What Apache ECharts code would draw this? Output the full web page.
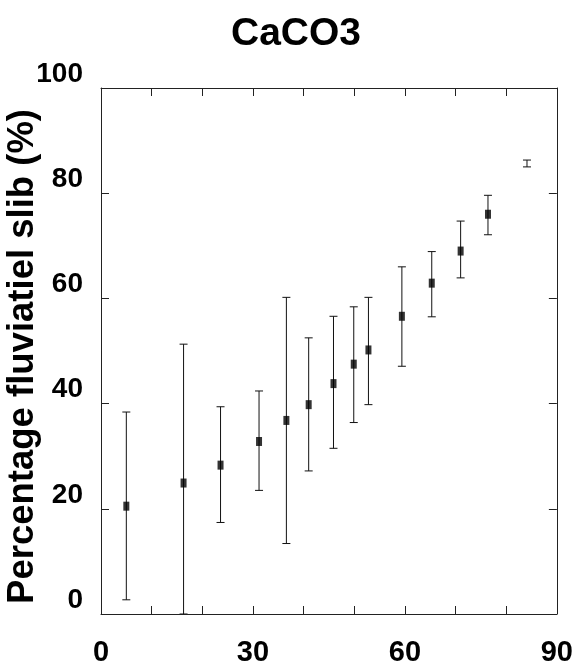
<!DOCTYPE html>
<html>
<head>
<meta charset="utf-8">
<script src="https://cdn.jsdelivr.net/npm/echarts@6/dist/echarts.min.js"></script>
<style>
html,body{margin:0;padding:0;background:#fff;}
#chart{width:576px;height:668px;}
</style>
</head>
<body>
<div id="chart"></div>
<script>
var xValues = [5.0, 16.3, 23.6, 31.2, 36.6, 41.0, 45.9, 49.9, 52.8, 59.4, 65.3, 71.0, 76.4, 84.1];
var yMeans  = [20.5, 24.9, 28.3, 32.8, 36.8, 39.8, 43.8, 47.5, 50.2, 56.6, 62.9, 69.0, 76.0, 85.6];
var yHigh   = [38.4, 51.3, 39.4, 42.4, 60.2, 52.5, 56.6, 58.4, 60.2, 66.0, 68.9, 74.7, 79.6, 86.3];
var yLow    = [2.7, 0.0, 17.4, 23.5, 13.4, 27.2, 31.5, 36.4, 39.8, 47.1, 56.5, 63.9, 72.1, 85.0];
var xTickLabels = [0, 30, 60, 90];
var yTickLabels = [0, 20, 40, 60, 80, 100];
var titleText = 'CaCO3';
var yAxisTitle = 'Percentage fluviatiel slib (%)';

var FONT = '"Liberation Sans", Arial, Helvetica, sans-serif';
var chart = echarts.init(document.getElementById('chart'), null, {renderer: 'canvas'});

var errData = xValues.map(function (x, i) { return [x, yLow[i], yHigh[i]]; });
var pointData = xValues.map(function (x, i) {
  var d = {value: [x, yMeans[i]]};
  if (yHigh[i] - yLow[i] < 3) { d.symbolSize = 0; }
  return d;
});

function axisBase() {
  return {
    axisLine: {show: true, onZero: false, lineStyle: {color: '#222', width: 1}},
    axisTick: {show: true, inside: true, length: 8, lineStyle: {color: '#222', width: 1}},
    splitLine: {show: false}
  };
}

var xBottom = axisBase();
Object.assign(xBottom, {
  type: 'value', min: 0, max: 90, interval: 10, position: 'bottom',
  axisLabel: {
    margin: 24, fontFamily: FONT, fontSize: 29, fontWeight: 'bold', color: '#000',
    formatter: function (v) { return xTickLabels.indexOf(v) >= 0 ? String(v) : ''; }
  }
});
var xTop = axisBase();
Object.assign(xTop, {
  type: 'value', min: 0, max: 90, interval: 10, position: 'top',
  axisLabel: {show: false}
});
var yLeft = axisBase();
Object.assign(yLeft, {
  type: 'value', min: 0, max: 100, interval: 20, position: 'left',
  axisLabel: {
    margin: 18, fontFamily: FONT, fontSize: 28, fontWeight: 'bold', color: '#000',
    verticalAlign: 'bottom', lineHeight: 28,
    formatter: function (v) { return yTickLabels.indexOf(v) >= 0 ? String(v) : ''; }
  }
});
var yRight = axisBase();
Object.assign(yRight, {
  type: 'value', min: 0, max: 100, interval: 20, position: 'right',
  axisLabel: {show: false}
});

var option = {
  animation: false,
  backgroundColor: '#fff',
  title: {
    text: titleText,
    left: 291, top: 10, textAlign: 'center',
    textStyle: {fontFamily: FONT, fontSize: 39, fontWeight: 'bold', color: '#000'}
  },
  grid: {left: 101, right: 17, top: 88, bottom: 54},
  xAxis: [xBottom, xTop],
  yAxis: [yLeft, yRight],
  graphic: [{
    type: 'text', left: 4, top: 109,
    rotation: Math.PI / 2, originX: 0, originY: 0,
    style: {
      text: yAxisTitle, fontFamily: FONT, fontSize: 36.5, fontWeight: 'bold', fill: '#000'
    }
  }],
  series: [{
    type: 'custom',
    xAxisIndex: 0, yAxisIndex: 0,
    data: errData,
    clip: true,
    renderItem: function (params, api) {
      var x = api.value(0);
      var top = api.coord([x, api.value(2)]);
      var bot = api.coord([x, api.value(1)]);
      var hw = 4;
      var st = {stroke: '#111', lineWidth: 1};
      return {
        type: 'group',
        children: [
          {type: 'line', shape: {x1: top[0], y1: top[1], x2: bot[0], y2: bot[1]}, style: st},
          {type: 'line', shape: {x1: top[0] - hw, y1: top[1], x2: top[0] + hw, y2: top[1]}, style: st},
          {type: 'line', shape: {x1: bot[0] - hw, y1: bot[1], x2: bot[0] + hw, y2: bot[1]}, style: st}
        ]
      };
    },
    z: 2
  }, {
    type: 'scatter',
    xAxisIndex: 0, yAxisIndex: 0,
    symbol: 'rect', symbolSize: [6, 9],
    itemStyle: {color: '#000'},
    data: pointData,
    z: 3
  }]
};
chart.setOption(option);
</script>
</body>
</html>
